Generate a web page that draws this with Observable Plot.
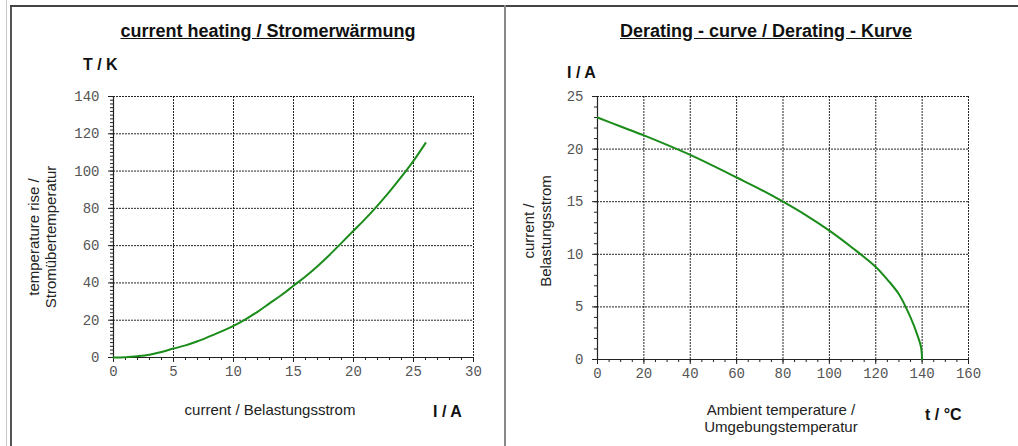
<!DOCTYPE html>
<html><head><meta charset="utf-8">
<script src="https://cdn.jsdelivr.net/npm/d3@7"></script>
<script src="https://cdn.jsdelivr.net/npm/@observablehq/plot@0.6"></script>
<style>
html,body{margin:0;padding:0;background:#fff;}
#root{position:relative;width:1018px;height:446px;overflow:hidden;font-family:"Liberation Sans",Arial,sans-serif;color:#222;}
.abs{position:absolute;white-space:nowrap;}
.title{font-weight:bold;font-size:18px;text-decoration:underline;transform:translateX(-50%);color:#111;}
.unit{font-weight:bold;font-size:16px;color:#111;}
.lab{font-size:15px;text-align:center;line-height:17px;color:#222;}
.rot{transform:translate(-50%,-50%) rotate(-90deg);}
.hc{transform:translateX(-50%);}
.line{position:absolute;}
</style>
</head><body><div id="root"></div>
<script>
// Left chart: current heating
const heatCurrent = [0,1,2,3,4,5,6,7,8,9,10,11,12,13,14,15,16,17,18,19,20,21,22,23,24,25,26];
const heatRise    = [0,0.2,0.7,1.5,3,4.8,6.5,8.7,11.3,14,17,20.5,24.5,29,33.5,38.5,43.5,49,55,61.5,68,74.5,81.5,89,97,105.5,115];
const heatXTicks = [0,5,10,15,20,25,30];
const heatYTicks = [0,20,40,60,80,100,120,140];

// Right chart: derating curve
const deratTemp    = [0,10,20,30,40,50,60,70,80,90,100,110,120,125,130,135,138,139.5,140];
const deratCurrent = [23,22.15,21.3,20.4,19.45,18.4,17.3,16.2,15.0,13.7,12.25,10.6,8.8,7.6,6.2,4.0,2.3,1.2,0];
const deratXTicks = [0,20,40,60,80,100,120,140,160];
const deratYTicks = [0,5,10,15,20,25];

const root = document.getElementById("root");
const green = "#1a8c1a";
const grid = {stroke:"#000", strokeOpacity:0.85, strokeDasharray:"2,1", strokeWidth:1};

function chart(opts){
  const data = opts.xs.map((x,i)=>({x, y:opts.ys[i]}));
  const [x0,x1]=opts.xDomain, [y0,y1]=opts.yDomain;
  const minorX = d3.range(x0, x1+1e-9, opts.minorX);
  const minorY = d3.range(y0, y1+1e-9, opts.minorY);
  return Plot.plot({
    width: opts.width, height: 446,
    marginLeft: opts.ml, marginRight: opts.mr, marginTop: 96, marginBottom: opts.mb,
    style:{fontFamily:"'Liberation Mono','Courier New',monospace", fontSize:"14px", background:"transparent", color:"#444"},
    x:{domain:opts.xDomain, label:null}, y:{domain:opts.yDomain, label:null},
    marks:[
      Plot.gridX(opts.xTicks.filter(v=>v!==x0), grid),
      Plot.gridY(opts.yTicks.filter(v=>v!==y0), grid),
      Plot.axisX(minorX, {tickSize:3, text:null, stroke:"#222", label:null}),
      Plot.axisY(minorY, {tickSize:3, text:null, stroke:"#222", label:null}),
      Plot.axisX(opts.xTicks, {tickSize:5, tickPadding:4, stroke:"#222", fill:"#555", label:null, tickFormat:d=>String(d)}),
      Plot.axisY(opts.yTicks, {tickSize:5, tickPadding:9, stroke:"#222", fill:"#555", label:null, tickFormat:d=>String(d)}),
      Plot.ruleY([y0], {stroke:"#222", strokeWidth:1.2}),
      Plot.ruleX([x0], {stroke:"#222", strokeWidth:1.2}),
      Plot.line(data, {x:"x", y:"y", stroke:green, strokeWidth:2, curve:"catmull-rom"})
    ]
  });
}

const left = chart({width:505, ml:113, mr:32, mb:89, xs:heatCurrent, ys:heatRise,
  xDomain:[0,30], yDomain:[0,140], xTicks:heatXTicks, yTicks:heatYTicks, minorX:1, minorY:2});
left.style.position="absolute"; left.style.left="0px"; left.style.top="0px";
root.appendChild(left);

const right = chart({width:513, ml:92, mr:50, mb:87, xs:deratTemp, ys:deratCurrent,
  xDomain:[0,160], yDomain:[0,25], xTicks:deratXTicks, yTicks:deratYTicks, minorX:5, minorY:1});
right.style.position="absolute"; right.style.left="505px"; right.style.top="0px";
root.appendChild(right);

function add(html, cls, left, top){
  const d=document.createElement("div");
  d.className="abs "+cls; d.innerHTML=html;
  d.style.left=left+"px"; d.style.top=top+"px";
  root.appendChild(d); return d;
}
function line(l,t,w,h,c){
  const d=document.createElement("div"); d.className="line";
  Object.assign(d.style,{left:l+"px",top:t+"px",width:w+"px",height:h+"px",background:c});
  root.appendChild(d);
}
// frame lines
line(6,0,1,446,"#c8c8c8");
line(10,5,2,441,"#555");
line(10,5,1008,2,"#444");
line(504,5,2,441,"#888");

// titles
add("current heating / Stromerwärmung","title",268,21);
add("Derating - curve / Derating - Kurve","title",766,21);
// units
add("T / K","unit",83,56);
add("I / A","unit",567,64);
add("I / A","unit",433,403);
add("t / °C","unit",925,406);
// y labels
add("temperature rise /<br>Stromübertemperatur","lab rot",42,237);
add("current /<br>Belastungsstrom","lab rot",537,231);
// x labels
add("current / Belastungsstrom","lab hc",270,401);
add("Ambient temperature /<br>Umgebungstemperatur","lab hc",781,401);
</script></body></html>
